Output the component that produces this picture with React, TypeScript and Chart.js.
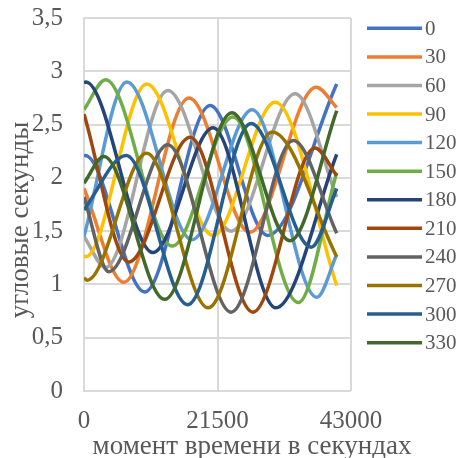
import React, { useEffect, useRef } from 'react';
import { Chart, registerables } from 'chart.js';

Chart.register(...registerables);

// Series names (legend labels) and colours
const seriesNames = ['0', '30', '60', '90', '120', '150', '180', '210', '240', '270', '300', '330'];
const seriesColors = ['#4472C4', '#ED7D31', '#A5A5A5', '#FFC000', '#5B9BD5', '#70AD47', '#264478', '#9E480E', '#636363', '#997300', '#255E91', '#43682B'];

// Readings [time in seconds, angular seconds] at start, extrema and end of each curve
const s0 = [[0, 2.2], [200, 2.21], [9800, 0.93], [20300, 2.68], [29600, 1.46], [40700, 2.88]];
const s30 = [[0, 1.9], [6400, 1.02], [16900, 2.75], [26700, 1.49], [37400, 2.85], [40700, 2.66]];
const s60 = [[0, 1.45], [3500, 1.16], [13500, 2.82], [23700, 1.5], [34000, 2.79], [40700, 1.82]];
const s90 = [[0, 1.27], [300, 1.26], [10100, 2.88], [20800, 1.46], [30800, 2.71], [40700, 0.99]];
const s120 = [[0, 1.45], [6900, 2.9], [17400, 1.42], [27100, 2.64], [37500, 0.88], [40700, 1.28]];
const s150 = [[0, 2.64], [3500, 2.92], [14200, 1.36], [24000, 2.57], [34500, 0.83], [40700, 2.05]];
const s180 = [[0, 2.89], [300, 2.9], [11100, 1.3], [20800, 2.47], [30900, 0.78], [40700, 2.22]];
const s210 = [[0, 2.6], [7200, 1.21], [17100, 2.38], [27200, 0.74], [37200, 2.28], [40700, 2.02]];
const s240 = [[0, 1.82], [4000, 1.12], [13500, 2.31], [23700, 0.74], [33700, 2.35], [40700, 1.48]];
const s270 = [[0, 1.06], [500, 1.04], [10100, 2.23], [20000, 0.78], [30300, 2.43], [40700, 1.26]];
const s300 = [[0, 1.7], [6800, 2.21], [16700, 0.81], [26900, 2.51], [36600, 1.35], [40700, 1.9]];
const s330 = [[0, 1.95], [3200, 2.2], [13000, 0.86], [23800, 2.61], [33200, 1.41], [40700, 2.63]];

const seriesData = [s0, s30, s60, s90, s120, s150, s180, s210, s240, s270, s300, s330];

const xTicks = [0, 21500, 43000];
const yMin = 0;
const yMax = 3.5;
const yStep = 0.5;

const xTitle = 'момент времени в секундах';
const yTitle = 'угловые секунды';

const FONT = "'Liberation Serif', 'Times New Roman', serif";
const TEXT = '#595959';
const GRID = '#D9D9D9';

const decorPlugin = {
  id: 'decor',
  afterDraw(chart: any) {
    const ctx = chart.ctx;
    ctx.save();
    // legend
    chart.data.datasets.forEach((ds: any, i: number) => {
      const y = 28.3 + i * 28.58;
      ctx.strokeStyle = ds.borderColor;
      ctx.lineWidth = 3.5;
      ctx.lineCap = 'butt';
      ctx.beginPath();
      ctx.moveTo(367, y);
      ctx.lineTo(422, y);
      ctx.stroke();
      ctx.fillStyle = TEXT;
      ctx.font = `21px ${FONT}`;
      ctx.textBaseline = 'middle';
      ctx.textAlign = 'left';
      ctx.fillText(ds.label, 425, y + 1);
    });
    // axis titles
    ctx.fillStyle = TEXT;
    ctx.font = `27px ${FONT}`;
    ctx.textAlign = 'center';
    ctx.textBaseline = 'alphabetic';
    ctx.fillText(xTitle, 252, 454);
    ctx.translate(28, 220);
    ctx.rotate(-Math.PI / 2);
    ctx.fillText(yTitle, 0, 0);
    ctx.restore();
  },
};

export default function App() {
  const ref = useRef<HTMLCanvasElement>(null);

  useEffect(() => {
    document.body.style.margin = '0';
    const canvas = ref.current!;
    const chart = new Chart(canvas, {
      type: 'line',
      data: {
        datasets: seriesData.map((pts, i) => ({
          label: seriesNames[i],
          data: pts.map(([x, y]) => ({ x, y })),
          borderColor: seriesColors[i],
          backgroundColor: seriesColors[i],
          borderWidth: 3.5,
          pointRadius: 0,
          fill: false,
          cubicInterpolationMode: 'monotone' as const,
          order: seriesData.length - 1 - i,
        })),
      },
      options: {
        responsive: false,
        animation: false,
        events: [],
        layout: { padding: { top: 0, right: 108, left: 0, bottom: 0 } },
        plugins: {
          legend: { display: false },
          tooltip: { enabled: false },
        },
        scales: {
          x: {
            type: 'linear',
            min: 0,
            max: 43000,
            afterFit: (s: any) => { s.height = 67; },
            afterBuildTicks: (s: any) => { s.ticks = xTicks.map((v) => ({ value: v })); },
            ticks: {
              color: TEXT,
              font: { family: FONT, size: 25, lineHeight: 1.2 },
              padding: 15,
              maxRotation: 0,
              callback: (v: any) => String(v),
            },
            grid: { color: GRID, lineWidth: 2, drawTicks: false },
            border: { display: false },
          },
          y: {
            type: 'linear',
            min: yMin,
            max: yMax,
            afterFit: (s: any) => { s.width = 84; },
            ticks: {
              stepSize: yStep,
              color: TEXT,
              font: { family: FONT, size: 25, lineHeight: 1.2 },
              padding: 3,
              callback: (v: any) => String(v).replace('.', ','),
            },
            grid: { color: GRID, lineWidth: 2, drawTicks: true, tickLength: 18, tickColor: 'rgba(0,0,0,0)' },
            border: { display: true, color: GRID, width: 2 },
          },
        },
      },
      plugins: [decorPlugin],
    });
    return () => chart.destroy();
  }, []);

  return <canvas ref={ref} width={459} height={458} style={{ display: 'block' }} />;
}
